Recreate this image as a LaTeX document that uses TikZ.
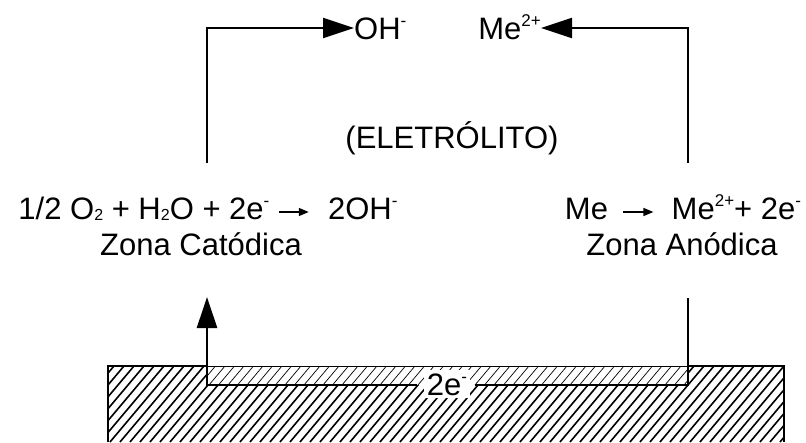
\documentclass[tikz,border=0pt]{standalone}
\usepackage{fontspec}
\setmainfont{Liberation Sans}
\usetikzlibrary{arrows.meta}

\newcommand{\flecha}{\tikz[baseline=-7pt]\draw[line width=1.5pt,-{Triangle[length=10pt,width=8pt]}] (0pt,0pt) -- (30pt,0pt);}
\newcommand{\sob}[1]{\raisebox{13pt}{\fontsize{17}{17}\selectfont #1}}
\newcommand{\ind}[1]{\raisebox{-1pt}{\fontsize{16}{16}\selectfont #1}}

\begin{document}
\begin{tikzpicture}[x=1pt, y=-1pt,
  fio/.style={line width=2pt},
  fiogrosso/.style={line width=2.6pt},
  seta/.style={-{Triangle[length=31pt,width=20pt]}},
  hachura/.style={line width=1.6pt},
  hachurafina/.style={line width=0.7pt},
  rotulo/.style={font=\fontsize{31}{36}\selectfont, inner sep=0pt, text height=22pt, text depth=0pt}]
\useasboundingbox (0,0) rectangle (806,442);
% metal
\begin{scope}
  \clip (108,366) rectangle (784,442);
  \foreach \i in {30,40,...,790} \draw[hachura] (\i,442) -- ++(64,-76);
\end{scope}
\fill[white] (207,366) rectangle (688,385);
\begin{scope}
  \clip (207,366) rectangle (688,385);
  \foreach \i in {190,199.5,...,690} \draw[hachurafina] (\i,385) -- ++(16,-19);
\end{scope}
\draw[fiogrosso] (108,442) -- (108,366) -- (207,366);
\draw[line width=1pt] (207,366) -- (688,366);
\draw[fiogrosso] (688,366) -- (784,366) -- (784,442);
% textos
\node[rotulo, anchor=west] (ohion) at (354,28) {OH\sob{-}};
\node[rotulo, anchor=east] (meion) at (541,28) {Me\sob{2+}};
\node[rotulo] (eletrolito) at (452,137) {(ELETRÓLITO)};
\node[rotulo] (catodo) at (208,208) {1/2 O\ind{2} + H\ind{2}O + 2e\sob{-} \flecha\hspace{10pt} 2OH\sob{-}};
\node[rotulo] (zonacat) at (201,244) {Zona Catódica};
\node[rotulo] (anodo) at (683,208) {Me\hspace{6pt} \flecha\hspace{9pt} Me\sob{2+}+ 2e\sob{-}};
\node[rotulo] (zonaan) at (682,244) {Zona Anódica};
\node[rotulo, fill=white, inner xsep=3pt, inner ysep=3pt] (eletrons) at (447,384) {2e\sob{-}};
% circuito
\coordinate (catcima) at (207,163);
\coordinate (ancima) at (688,163);
\coordinate (catbaixo) at (207,297);
\coordinate (anbaixo) at (688,298);
\coordinate (fioesq) at (417,385);
\coordinate (fiodir) at (475,385);
\draw[fio, seta] (catcima) |- (ohion.west);
\draw[fio, seta] (ancima) |- (meion.east);
\draw[fiogrosso, seta] (fioesq) -| (catbaixo);
\draw[fiogrosso] (fiodir) -| (anbaixo);
\end{tikzpicture}
\end{document}
